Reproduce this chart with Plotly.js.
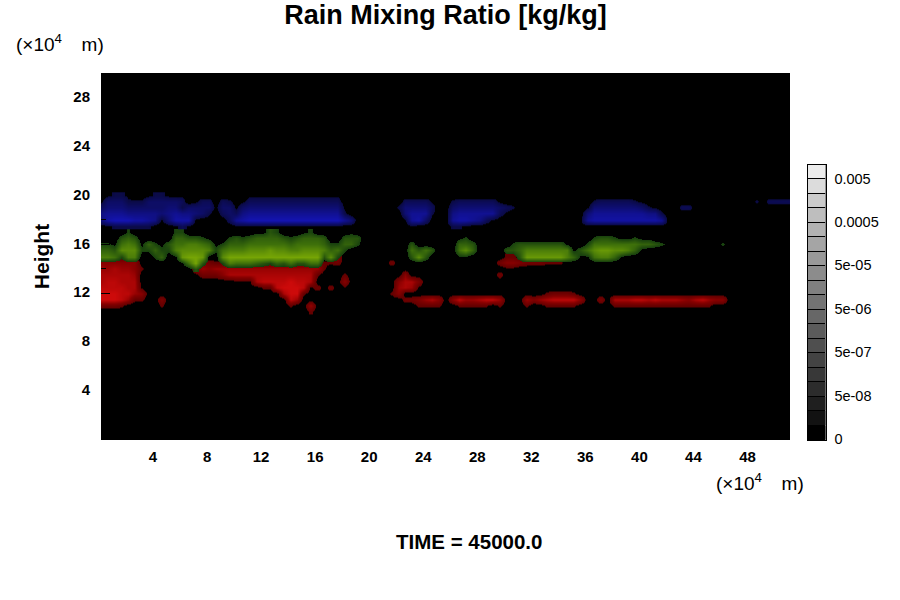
<!DOCTYPE html>
<html>
<head>
<meta charset="utf-8">
<script src="https://cdn.plot.ly/plotly-3.0.1.min.js"></script>
<style>html,body{margin:0;padding:0;background:#fff}#chart{width:900px;height:600px}</style>
</head>
<body>
<div id="chart"></div>
<script>
// Intensity, 0-9, one digit per 0.5 x10^4 m column.
const blueHeights = [17.5, 18, 18.5, 19, 19.5, 20];
const blueRows = [
  "0122222200 0131000000 1111111111 1111110000 0000001000 0022100000",
  "5899988761 5888100003 7899999999 9999997500 0000017840 0078876310 0000000000 0178888888 8887000000",
  "6777666665 6766542034 3677777777 7777772000 0000057772 0067777773 1000000000 0057777777 7662000000",
  "3555444444 5524444144 1455555555 5555551000 0000255553 0045555554 3200000000 0015555555 4210003300",
  "1444222444 4430133032 0133333333 3333330000 0000033331 0023333331 0000000000 0002333332 1000000000 0000000203 333",
  "0122100122 1110000000 0011111111 1111110000"
];
const greenHeights = [14, 14.5, 15, 15.5, 16, 16.5, 17];
const greenRows = [
  "0000000000 0000300000",
  "0000000000 0015930026 5554324353 3550000000",
  "6652660024 0189980079 9999999999 9993720000 0000003730 0001100000 0038888886 4115664100",
  "4437772242 2677776256 6677787766 7776452000 0000005353 0005740000 3346666666 1357887764 1000000000",
  "2215651421 3556654124 4455555545 5554224420 0000003000 0004430000 0233333331 0025555555 4432100000 0020000000",
  "0003430000 0443321002 3234444323 4443003330 0000000000 0001200000 0000000000 0002332112 1100000000",
  "0000200000 0220000000 0001132000 1200000100"
];
const redHeights = [10.5, 11, 11.5, 12, 12.5, 13, 13.5, 14, 14.5, 15];
const redRows = [
  "0000000000 0000000000 0000000000 0200000000",
  "3332000002 0000000000 0000000020 0600000000 0000000222 2002222202 0002002222 2000002222 2222222222 2000000000",
  "9998622004 0000000000 0000000086 0000000000 0000033467 5058667886 0006467888 8500407778 8787776578 6550000000",
  "9998865000 0000000000 0000000799 2000000000 0002500000 0000000000 0000002333 2000000000",
  "8888771000 0000000000 0000228999 8130301000 0000676100",
  "7887770000 0000000000 1117888898 8700005000 0000577400",
  "7777760000 0000133357 7777777777 7720002000 0000050000 0000000003",
  "6676652000 0000465666 6666666666 6662000000 0000000000 0000000000 1100000000",
  "5555550000 0000133222 2222222222 2222230000 0003000000 0000000003 5543332220 0001000000",
  "1111110000 0000000000 0000000000 0000040000 0000000000 0000000000 2210000000 0003300000"
];
const columnCount = 103;
const columnStep = 0.5;

const xTickVals = [4,8,12,16,20,24,28,32,36,40,44,48];
const yTickVals = [4,8,12,16,20,24,28];

const barLevels = [0,1,2,3,4,5,6,7,8,9,10,11,12,13,14,15,16,17,18];
const barGrays = ["#000000","#121212","#1f1f1f","#2c2c2c","#383838","#434343","#4f4f4f","#5b5b5b","#676767","#737373","#808080","#8c8c8c","#999999","#a5a5a5","#b2b2b2","#bebebe","#cbcbcb","#dcdcdc","#ececec"];
const barTickVals = [0,3,6,9,12,15,18];
const barTickText = ["0","5e-08","5e-07","5e-06","5e-05","0.0005","0.005"];

function parseRows(rows){
  return rows.map(function(r){
    const d = r.replace(/ /g,'').split('').map(Number);
    while(d.length < columnCount) d.push(0);
    return d;
  });
}
function scale(c1,c2,c3){
  const t = 1.5/9;
  return [[0,'rgba(0,0,0,0)'],[t,'rgba(0,0,0,0)'],[t+0.0005,c1],[5/9,c2],[1,c3]];
}
function band(rows,heights,cs){
  return {type:'heatmap',z:parseRows(rows),x0:0,dx:columnStep,y:heights,zmin:0,zmax:9,
    zsmooth:'best',colorscale:cs,showscale:false,hoverinfo:'skip',xaxis:'x',yaxis:'y'};
}
const traces = [
  band(redRows,redHeights,scale('rgb(95,0,0)','rgb(135,0,0)','rgb(205,10,10)')),
  band(greenRows,greenHeights,scale('rgb(22,62,14)','rgb(62,112,10)','rgb(118,165,5)')),
  band(blueRows,blueHeights,scale('rgb(10,10,65)','rgb(14,14,115)','rgb(20,20,178)')),
  {type:'heatmap',z:barLevels.map(function(v){return [v];}),x:[0],y:barLevels.map(function(v){return v+0.5;}),
   ygap:1,zmin:0,zmax:18,showscale:false,hoverinfo:'skip',
   colorscale:barGrays.map(function(c,i){return [i/18,c];}),xaxis:'x2',yaxis:'y2'}
];
const tickFont = {family:'"Liberation Sans",Arial,sans-serif',size:15,color:'#000',weight:'bold'};
const unitText = '(\u00d710<sup>4</sup>\u00a0\u00a0\u00a0\u2009m)';
const layout = {
  width:900,height:600,margin:{l:0,r:0,t:0,b:0,pad:0},
  paper_bgcolor:'#fff',plot_bgcolor:'#000',showlegend:false,
  title:{text:'Rain Mixing Ratio [kg/kg]',x:445.5/900,xanchor:'center',xref:'paper',y:1-15/600,yanchor:'middle',
    font:{family:'"Liberation Sans",Arial,sans-serif',size:27,color:'#000',weight:'bold'}},
  xaxis:{domain:[101/900,790/900],range:[0,51],tickmode:'array',tickvals:xTickVals,ticks:'inside',ticklen:9,tickwidth:1,tickcolor:'#000',
    minor:{tickmode:'linear',tick0:0,dtick:2,ticks:'inside',ticklen:5,tickcolor:'#000'},ticklabelstandoff:6,ticklabelshift:-2,
    showgrid:false,zeroline:false,showline:false,tickfont:tickFont,automargin:false,anchor:'y'},
  yaxis:{domain:[160/600,527/600],range:[0,30],tickmode:'array',tickvals:yTickVals,ticks:'inside',ticklen:9,tickwidth:1,tickcolor:'#000',
    minor:{tickmode:'linear',tick0:0,dtick:2,ticks:'inside',ticklen:5,tickcolor:'#000'},ticklabelstandoff:10,ticklabelshift:-1,
    showgrid:false,zeroline:false,showline:false,tickfont:tickFont,automargin:false,anchor:'x',
    title:{text:'Height',standoff:17,font:{family:'"Liberation Sans",Arial,sans-serif',size:21,color:'#000',weight:'bold'}}},
  xaxis2:{domain:[807.5/900,825.5/900],range:[-0.5,0.5],showticklabels:false,ticks:'',showgrid:false,zeroline:false,
    showline:true,mirror:true,linecolor:'#000',linewidth:1,anchor:'y2'},
  yaxis2:{domain:[160/600,435/600],range:[0,19],side:'right',tickmode:'array',tickvals:barTickVals,ticktext:barTickText,ticks:'',ticklabelstandoff:5,ticklabelshift:-1,
    tickfont:{family:'"Liberation Sans",Arial,sans-serif',size:14.5,color:'#000'},showgrid:false,zeroline:false,
    showline:true,mirror:true,linecolor:'#000',linewidth:1,anchor:'x2'},
  annotations:[
    {text:unitText,xref:'paper',yref:'paper',x:60/900,y:1-43/600,xanchor:'center',yanchor:'middle',showarrow:false,
     font:{family:'"Liberation Sans",Arial,sans-serif',size:19,color:'#000'}},
    {text:unitText,xref:'paper',yref:'paper',x:760/900,y:1-482/600,xanchor:'center',yanchor:'middle',showarrow:false,
     font:{family:'"Liberation Sans",Arial,sans-serif',size:19,color:'#000'}},
    {text:'TIME = 45000.0',xref:'paper',yref:'paper',x:469/900,y:1-541/600,xanchor:'center',yanchor:'middle',showarrow:false,
     font:{family:'"Liberation Sans",Arial,sans-serif',size:20.5,color:'#000',weight:'bold'}}
  ]
};
Plotly.newPlot('chart',traces,layout,{displayModeBar:false,staticPlot:true});
</script>
</body>
</html>
